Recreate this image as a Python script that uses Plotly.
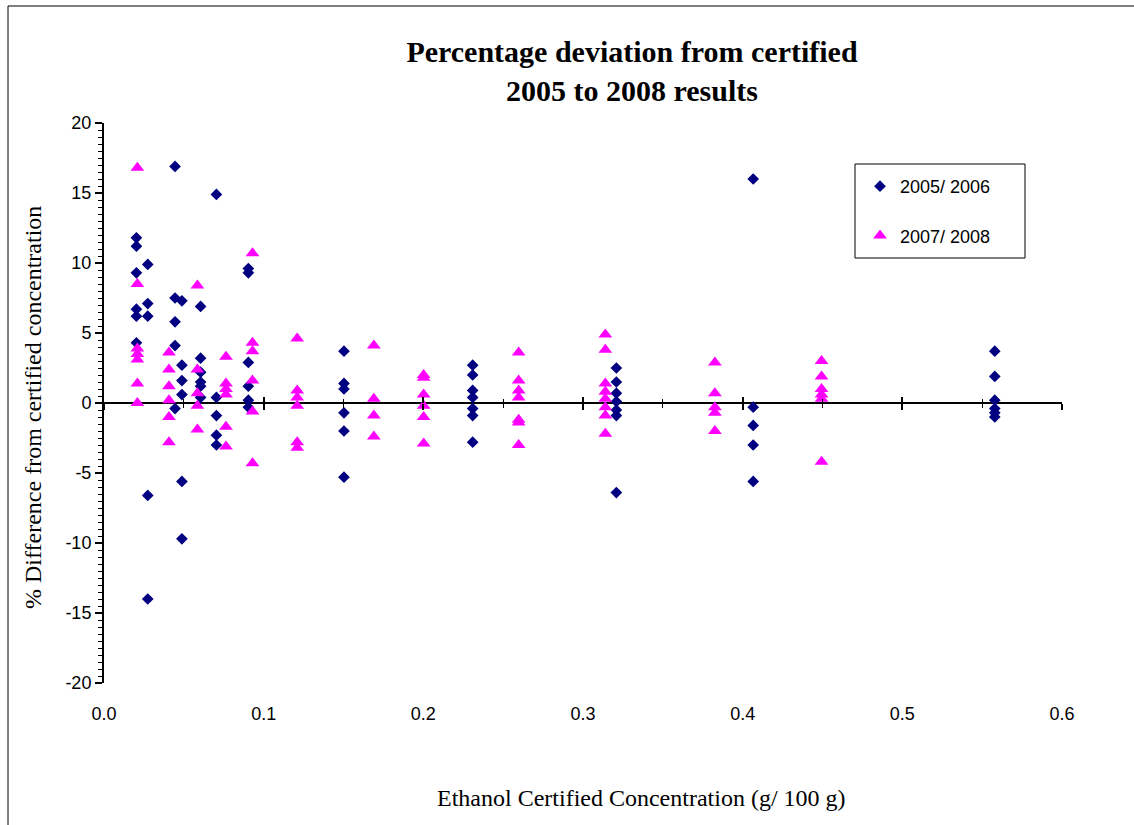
import plotly.graph_objects as go

# ---- data ----
conc_0506 = [0.0203, 0.0203, 0.0203, 0.0203, 0.0203, 0.0203,
             0.0274, 0.0274, 0.0274, 0.0274, 0.0274,
             0.0445, 0.0445, 0.0445, 0.0445, 0.0445,
             0.0488, 0.0488, 0.0488, 0.0488, 0.0488, 0.0488,
             0.0605, 0.0605, 0.0605, 0.0605, 0.0605, 0.0605,
             0.0704, 0.0704, 0.0704, 0.0704, 0.0704,
             0.0904, 0.0904, 0.0904, 0.0904, 0.0904, 0.0904,
             0.1503, 0.1503, 0.1503, 0.1503, 0.1503, 0.1503,
             0.2309, 0.2309, 0.2309, 0.2309, 0.2309, 0.2309, 0.2309,
             0.3209, 0.3209, 0.3209, 0.3209, 0.3209, 0.3209, 0.3209,
             0.4066, 0.4066, 0.4066, 0.4066, 0.4066,
             0.5579, 0.5579, 0.5579, 0.5579, 0.5579, 0.5579]
diff_0506 = [11.8, 11.2, 9.3, 6.7, 6.2, 4.3,
             9.9, 7.1, 6.2, -6.6, -14.0,
             16.9, 7.5, 5.8, 4.1, -0.4,
             7.3, 2.7, 1.6, 0.6, -5.6, -9.7,
             6.9, 3.2, 2.2, 1.5, 1.2, 0.4,
             14.9, 0.4, -0.9, -2.3, -3.0,
             9.6, 9.3, 2.9, 1.2, 0.2, -0.3,
             3.7, 1.4, 1.0, -0.7, -2.0, -5.3,
             2.7, 2.0, 0.9, 0.4, -0.4, -0.9, -2.8,
             2.5, 1.5, 0.7, 0.1, -0.5, -0.9, -6.4,
             16.0, -0.3, -1.6, -3.0, -5.6,
             3.7, 1.9, 0.2, -0.4, -0.7, -1.0]

conc_0708 = [0.0209, 0.0209, 0.0209, 0.0209, 0.0209, 0.0209, 0.0209,
             0.0407, 0.0407, 0.0407, 0.0407, 0.0407, 0.0407,
             0.0585, 0.0585, 0.0585, 0.0585, 0.0585,
             0.0764, 0.0764, 0.0764, 0.0764, 0.0764, 0.0764,
             0.0930, 0.0930, 0.0930, 0.0930, 0.0930, 0.0930,
             0.1210, 0.1210, 0.1210, 0.1210, 0.1210, 0.1210,
             0.1690, 0.1690, 0.1690, 0.1690,
             0.2002, 0.2002, 0.2002, 0.2002, 0.2002, 0.2002,
             0.2597, 0.2597, 0.2597, 0.2597, 0.2597, 0.2597, 0.2597,
             0.3140, 0.3140, 0.3140, 0.3140, 0.3140, 0.3140, 0.3140, 0.3140,
             0.3826, 0.3826, 0.3826, 0.3826, 0.3826,
             0.4494, 0.4494, 0.4494, 0.4494, 0.4494, 0.4494]
diff_0708 = [16.8, 8.5, 3.9, 3.5, 3.1, 1.4, 0.0,
             3.6, 2.4, 1.2, 0.2, -1.0, -2.8,
             8.4, 2.4, 0.7, -0.2, -1.9,
             3.3, 1.4, 1.0, 0.6, -1.7, -3.1,
             10.7, 4.3, 3.7, 1.6, -0.6, -4.3,
             4.6, 0.9, 0.4, -0.2, -2.8, -3.2,
             4.1, 0.3, -0.9, -2.4,
             2.0, 1.8, 0.6, -0.2, -1.0, -2.9,
             3.6, 1.6, 0.9, 0.4, -1.2, -1.4, -3.0,
             4.9, 3.8, 1.4, 0.8, 0.3, -0.3, -0.9, -2.2,
             2.9, 0.7, -0.3, -0.7, -2.0,
             3.0, 1.9, 1.0, 0.6, 0.3, -4.2]

series_names = ["2005/ 2006", "2007/ 2008"]
x_tickvals = [0.0, 0.1, 0.2, 0.3, 0.4, 0.5, 0.6]
x_ticktext = ["0.0", "0.1", "0.2", "0.3", "0.4", "0.5", "0.6"]
y_tickvals = [-20, -15, -10, -5, 0, 5, 10, 15, 20]
y_ticktext = ["-20", "-15", "-10", "-5", "0", "5", "10", "15", "20"]

title_text = "Percentage deviation from certified<br>2005 to 2008 results"
x_title = "Ethanol Certified Concentration (g/ 100 g)"
y_title = "% Difference from certified concentration"

W, H = 1134, 825
L, R, T, B = 104, 72, 123, 142
PW, PH = W - L - R, H - T - B


def px_x(p):
    return (p - L) / PW


def px_y(p):
    return (H - B - p) / PH


fig = go.Figure()
fig.add_trace(go.Scatter(
    x=conc_0506, y=diff_0506, mode="markers", name=series_names[0],
    legendgroup="a",
    marker=dict(symbol="diamond", size=9, color="#000080",
                line=dict(width=0))))
fig.add_trace(go.Scatter(
    x=conc_0708, y=diff_0708, mode="markers", name=series_names[1],
    legendgroup="b",
    marker=dict(symbol="triangle-up", size=12, color="#FF00FF",
                line=dict(width=0))))
# empty traces so the overlay axes (tick marks at y = 0) are drawn
fig.add_trace(go.Scatter(x=[], y=[], xaxis="x2", showlegend=False, hoverinfo="skip"))
fig.add_trace(go.Scatter(x=[], y=[], xaxis="x3", showlegend=False, hoverinfo="skip"))

tickfont = dict(family="Liberation Sans, Arial", size=18, color="black")
serif = "Liberation Serif, Times New Roman"

fig.update_layout(
    width=W, height=H,
    margin=dict(l=L, r=R, t=T, b=B),
    paper_bgcolor="white", plot_bgcolor="white",
    title=dict(text=title_text, xref="container", yref="container",
               x=632 / W, y=1 - 62 / H, xanchor="center", yanchor="middle",
               font=dict(family=serif, size=30, color="black", weight="bold")),
    xaxis=dict(range=[0, 0.6], tickvals=x_tickvals, ticktext=x_ticktext,
               showgrid=False, zeroline=False, showline=False,
               ticks="outside", ticklen=14, tickcolor="rgba(0,0,0,0)",
               tickfont=tickfont),
    xaxis2=dict(range=[0, 0.6], overlaying="x", anchor="free", position=0.5,
                showgrid=False, zeroline=False, showline=False,
                showticklabels=False, ticks="outside", dtick=0.1, tick0=0,
                ticklen=6, tickwidth=2, tickcolor="black",
                minor=dict(ticks="outside", dtick=0.05, tick0=0, ticklen=4,
                           tickwidth=1, tickcolor="black")),
    xaxis3=dict(range=[0, 0.6], overlaying="x", anchor="free", position=0.5,
                showgrid=False, zeroline=False, showline=False,
                showticklabels=False, ticks="inside", dtick=0.1, tick0=0,
                ticklen=6, tickwidth=2, tickcolor="black",
                minor=dict(ticks="inside", dtick=0.05, tick0=0, ticklen=4,
                           tickwidth=1, tickcolor="black")),
    yaxis=dict(range=[-20, 20], tickvals=y_tickvals, ticktext=y_ticktext,
               showgrid=False,
               zeroline=True, zerolinecolor="black", zerolinewidth=2,
               showline=True, linecolor="black", linewidth=2,
               ticks="outside", ticklen=7, tickwidth=2, tickcolor="black",
               minor=dict(ticks="outside", dtick=0.5, ticklen=4, tickwidth=1,
                          tickcolor="black"),
               tickfont=tickfont),
    legend=dict(x=px_x(860), y=px_y(168), xanchor="left", yanchor="top",
                bgcolor="rgba(0,0,0,0)", borderwidth=0,
                font=dict(family="Liberation Sans, Arial", size=18, color="black"),
                tracegroupgap=23, itemwidth=30),
    showlegend=True,
)

# legend frame
fig.add_shape(type="rect", xref="paper", yref="paper",
              x0=px_x(855), x1=px_x(1025), y0=px_y(258), y1=px_y(164),
              line=dict(color="black", width=1), fillcolor="white", layer="below")

fig.add_annotation(text=y_title, textangle=-90, xref="paper", yref="paper",
                   x=px_x(33), y=px_y(408), xanchor="center", yanchor="middle",
                   showarrow=False, font=dict(family=serif, size=24, color="black"))
fig.add_annotation(text=x_title, xref="paper", yref="paper",
                   x=px_x(641), y=px_y(798), xanchor="center", yanchor="middle",
                   showarrow=False, font=dict(family=serif, size=24, color="black"))

# outer chart-area frame (left and top edges)
fig.add_shape(type="line", xref="paper", yref="paper",
              x0=px_x(8), x1=px_x(8), y0=px_y(6), y1=px_y(830),
              line=dict(color="black", width=1))
fig.add_shape(type="line", xref="paper", yref="paper",
              x0=px_x(8), x1=px_x(1140), y0=px_y(6), y1=px_y(6),
              line=dict(color="black", width=1))

fig.write_html("out.html")
